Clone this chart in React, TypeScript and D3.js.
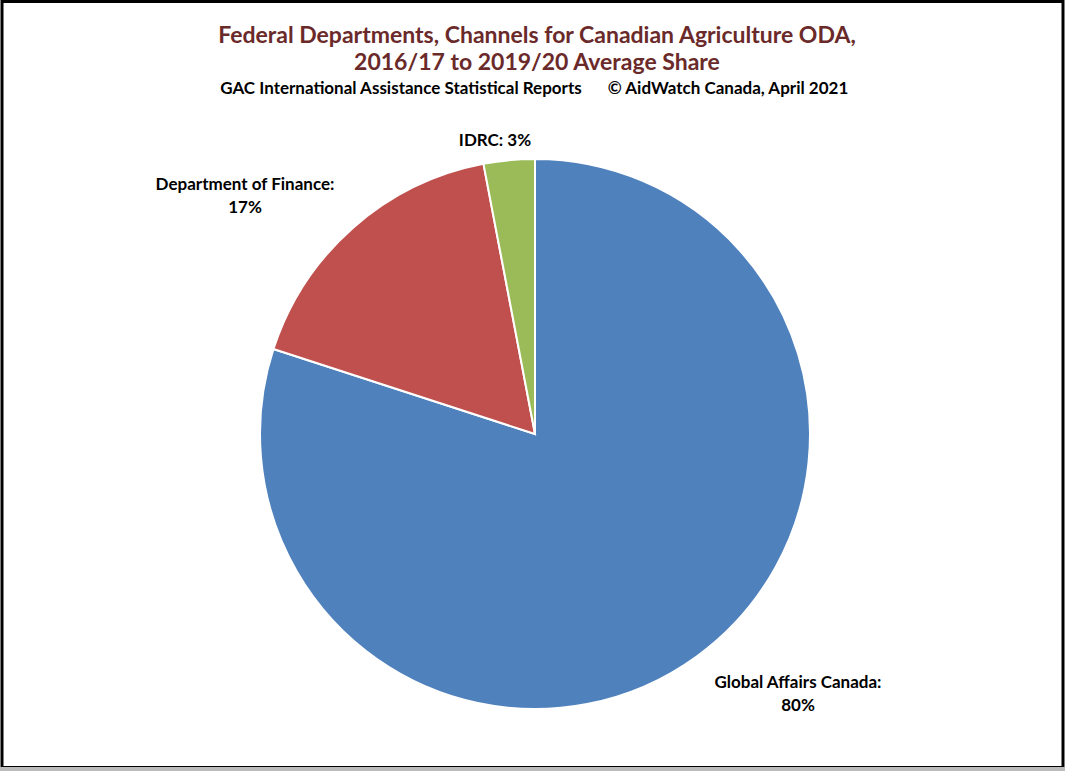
import React from "react";
import * as d3 from "d3";

const categories = ["Global Affairs Canada", "Department of Finance", "IDRC"];
const values = [80, 17, 3];
const colors = ["#4f81bd", "#c0504d", "#9bbb59"];
const labelLines = [
  ["Global Affairs Canada:", "80%"],
  ["Department of Finance:", "17%"],
  ["IDRC: 3%"],
];
const labelPos: [number, number][] = [
  [798, 688],
  [245, 190],
  [495, 146],
];

export default function App() {
  const W = 1065, H = 771;
  const cx = 535, cy = 434, r = 275;
  const pie = d3.pie<number>().sort(null).value((d) => d);
  const arcs = pie(values);
  const arc = d3.arc<d3.PieArcDatum<number>>().innerRadius(0).outerRadius(r);
  const font = "Lato, 'Open Sans', sans-serif";
  return (
    <svg width={W} height={H} style={{ position: "absolute", left: 0, top: 0 }}>
      <rect x={0} y={0} width={W} height={H} fill="#ffffff" />
      <rect x={2} y={1.5} width={W - 4} height={H - 5} fill="none" stroke="#000" strokeWidth={3} />
      <line x1={0} x2={W} y1={H - 2} y2={H - 2} stroke="#bbb" strokeWidth={4} />
      <g fontFamily={font} fontWeight="bold" textAnchor="middle">
        <text x={537} y={43} fontSize={23} fill="#6b2a2a">
          Federal Departments, Channels for Canadian Agriculture ODA,
        </text>
        <text x={537} y={70} fontSize={23} fill="#6b2a2a">
          2016/17 to 2019/20 Average Share
        </text>
        <text y={94} fontSize={17} fill="#000">
          <tspan x={401} textAnchor="middle">GAC International Assistance Statistical Reports</tspan>
          <tspan x={728} textAnchor="middle">© AidWatch Canada, April 2021</tspan>
        </text>
      </g>
      <g transform={`translate(${cx},${cy})`}>
        {arcs.map((a, i) => (
          <path key={categories[i]} d={arc(a) || ""} fill={colors[i]} stroke="#fff" strokeWidth={2} />
        ))}
      </g>
      <g fontFamily={font} fontWeight="bold" fontSize={17} textAnchor="middle" fill="#000">
        {labelLines.map((lines, i) => (
          <text key={i} x={labelPos[i][0]} y={labelPos[i][1]}>
            {lines.map((l, j) => (
              <tspan key={j} x={labelPos[i][0]} dy={j === 0 ? 0 : 23}>
                {l}
              </tspan>
            ))}
          </text>
        ))}
      </g>
    </svg>
  );
}
